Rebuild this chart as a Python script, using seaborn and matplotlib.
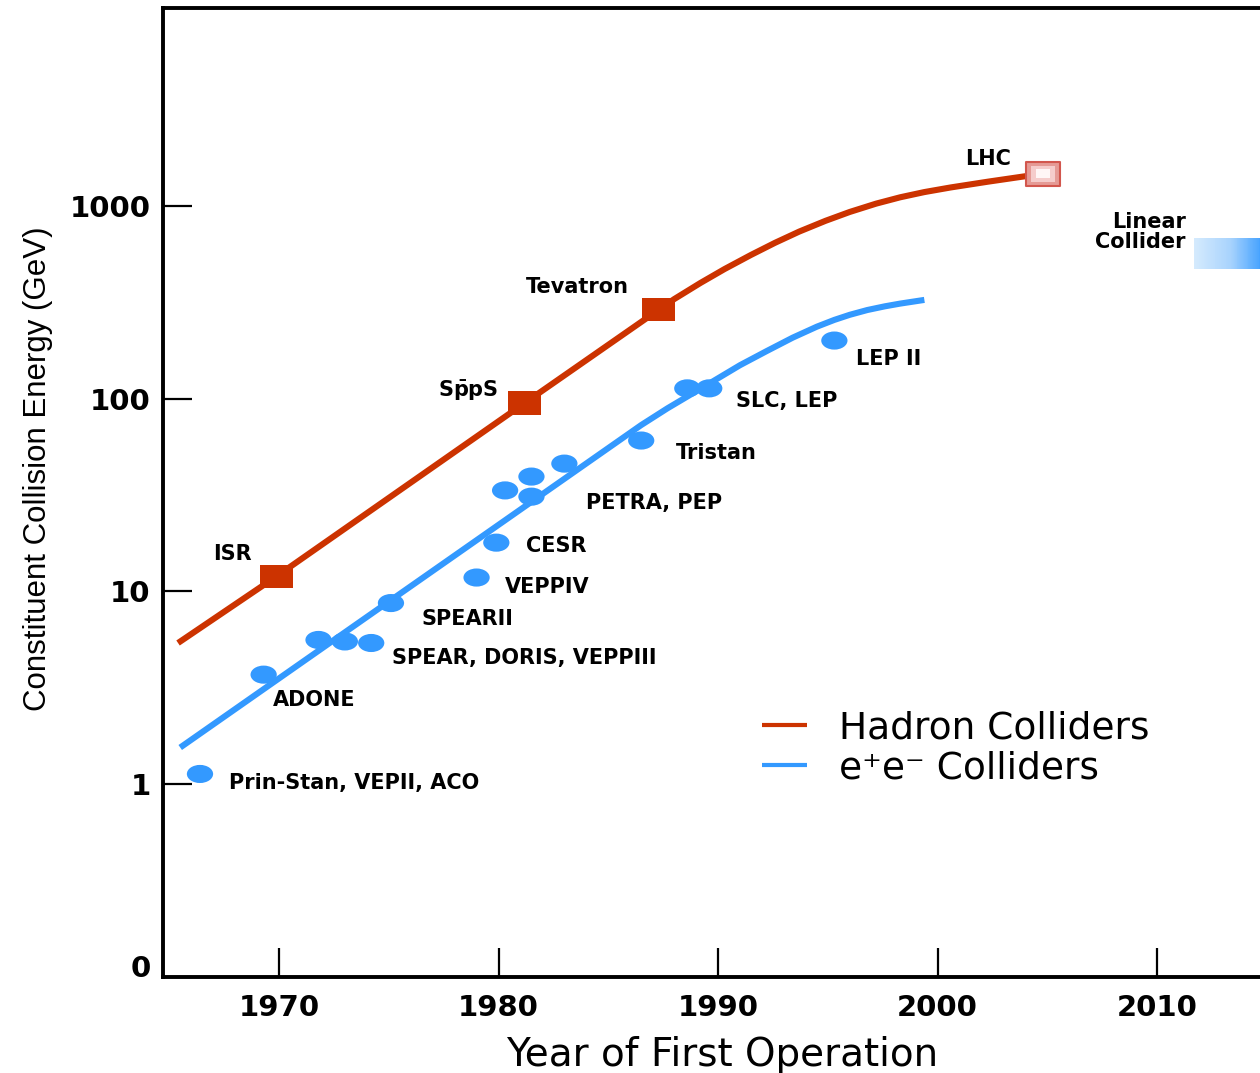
import numpy as np
import pandas as pd
import matplotlib
matplotlib.use("Agg")
import matplotlib.pyplot as plt
import seaborn as sns
from matplotlib.markers import MarkerStyle
from matplotlib.transforms import Affine2D
from matplotlib.colors import LinearSegmentedColormap
from matplotlib import font_manager
from matplotlib.ticker import NullLocator, FixedLocator, FixedFormatter

# ---------------- data ----------------
hadron_curve_year = [1965.4, 1969.9, 1981.2, 1987.3, 1988.0, 1989.2, 1990.3, 1991.5,
                     1992.6, 1993.7, 1994.9, 1996.0, 1997.2, 1998.3, 1999.4, 2000.6,
                     2002.3, 2004.1, 2004.8]
hadron_curve_gev = [5.4, 12, 95, 289, 328, 398, 470, 556, 643, 735, 836, 929, 1026,
                    1107, 1178, 1245, 1334, 1429, 1465]

ee_curve_year = [1965.5, 1986.5, 1987.7, 1989.6, 1991.0, 1992.2, 1993.4, 1994.5,
                 1995.3, 1996.0, 1996.8, 1997.6, 1998.3, 1999.4]
ee_curve_gev = [1.55, 72.9, 89.1, 119.7, 149, 176, 207, 236, 256, 272, 288, 301,
                311, 325]

hadron_names = ["ISR", "SppS", "Tevatron"]
hadron_year = [1969.9, 1981.2, 1987.3]
hadron_gev = [12, 95, 289]
lhc_year = [2004.8]
lhc_gev = [1465]

ee_year = [1966.4, 1969.3, 1971.8, 1973.0, 1974.2, 1975.1, 1979.0, 1979.9, 1980.3,
           1981.5, 1981.5, 1983.0, 1986.5, 1988.6, 1989.6, 1995.3]
ee_gev = [1.13, 3.7, 5.6, 5.5, 5.4, 8.7, 11.8, 17.9, 33.4, 39.4, 31.0, 46.0, 60.6,
          113, 113, 200]

linear_collider_years = [2011.7, 2015.0]
linear_collider_gev = [472, 683]

series_labels = ["Hadron Colliders", "e\u207ae\u207b Colliders"]
xtick_values = [1970, 1980, 1990, 2000, 2010]
ytick_values = [0.1, 1, 10, 100, 1000]
ytick_labels = ["0", "1", "10", "100", "1000"]

ann_texts = ["ISR", r"$\mathbf{S\bar{p}pS}$", "Tevatron", "LHC", "Linear\nCollider",
             "LEP II", "SLC, LEP", "Tristan", "PETRA, PEP", "CESR", "VEPPIV",
             "SPEARII", "SPEAR, DORIS, VEPPIII", "ADONE", "Prin-Stan, VEPII, ACO"]
# label anchor positions (year, GeV) and horizontal alignment
ann_pos = [(1967.9, 15.6), (1978.6, 110), (1983.6, 380), (2002.3, 1753), (2011.3, 733),
           (1996.3, 161), (1990.8, 97.7), (1988.1, 52.5), (1984.0, 28.9), (1981.25, 17.1),
           (1980.3, 10.6), (1976.5, 7.16), (1975.15, 4.50), (1969.7, 2.72), (1967.7, 1.01)]
ann_ha = ["center", "center", "center", "center", "right"] + ["left"] * 10

# ---------------- style ----------------
RED = "#cc3300"
BLUE = "#3399ff"

sns.set_theme(style="white")
plt.rcParams["font.family"] = ["DejaVu Sans"]
plt.rcParams["mathtext.fontset"] = "dejavusans"
plt.rcParams["text.color"] = "black"

names = {f.name for f in font_manager.fontManager.ttflist}
if "Liberation Sans Narrow" in names:
    ylab_family, ylab_size = "Liberation Sans Narrow", 27
else:
    ylab_family, ylab_size = "Liberation Sans", 22.5

fig = plt.figure(figsize=(12.6, 10.73), dpi=100)
ax = fig.add_axes([163 / 1260, 96 / 1073, 1 - 163 / 1260, 969 / 1073])
ax.set_yscale("log")

lines_df = pd.DataFrame({
    "year": hadron_curve_year + ee_curve_year,
    "gev": hadron_curve_gev + ee_curve_gev,
    "kind": [series_labels[0]] * len(hadron_curve_year) + [series_labels[1]] * len(ee_curve_year),
})
sns.lineplot(data=lines_df, x="year", y="gev", hue="kind",
             palette={series_labels[0]: RED, series_labels[1]: BLUE},
             sort=False, estimator=None, linewidth=4.4, ax=ax, zorder=2)
for ln in ax.get_lines():
    ln.set_solid_joinstyle("round")
    ln.set_solid_capstyle("butt")

# e+e- points (ellipses)
ell = MarkerStyle("o", transform=Affine2D().scale(1.45, 1.0))
sns.scatterplot(x=ee_year, y=ee_gev, marker=ell, s=170, color=BLUE,
                edgecolor="none", linewidth=0, ax=ax, zorder=4, legend=False)

# hadron squares
sq = MarkerStyle("s", transform=Affine2D().scale(1.43, 1.0))
sns.scatterplot(x=hadron_year, y=hadron_gev, marker=sq, s=280, color=RED,
                edgecolor="none", linewidth=0, ax=ax, zorder=4, legend=False)
# LHC (glowing square)
sns.scatterplot(x=lhc_year, y=lhc_gev, marker=sq, s=280, color="#e59a95",
                edgecolor="#d2564d", linewidth=1.5, ax=ax, zorder=4, legend=False)
sns.scatterplot(x=lhc_year, y=lhc_gev, marker=sq, s=140, color="#f5cccb",
                edgecolor="none", linewidth=0, ax=ax, zorder=5, legend=False)
sns.scatterplot(x=lhc_year, y=lhc_gev, marker=sq, s=45, color="#fff6f6",
                edgecolor="none", linewidth=0, ax=ax, zorder=6, legend=False)

# linear collider gradient box
gx = np.linspace(linear_collider_years[0], linear_collider_years[1], 80)
gy = np.array(linear_collider_gev)
gc = np.linspace(0, 1, 79)[None, :]
cmap = LinearSegmentedColormap.from_list("lc", ["#d4eafd", "#a8d3fd", "#3399ff"])
ax.pcolormesh(gx, gy, gc, cmap=cmap, shading="flat", zorder=1)

# annotations
for txt, (xx, yy), ha in zip(ann_texts, ann_pos, ann_ha):
    ax.text(xx, yy, txt, fontsize=15, fontweight="bold", ha=ha, va="center",
            multialignment="right" if ha == "right" else "left",
            linespacing=1.0, color="black", zorder=7)

# axes
ax.set_xlim(1964.715, 2014.69)
ax.set_ylim(0.1, 10614)
ax.xaxis.set_major_locator(FixedLocator(xtick_values))
ax.yaxis.set_major_locator(FixedLocator(ytick_values))
ax.yaxis.set_major_formatter(FixedFormatter(ytick_labels))
ax.yaxis.set_minor_locator(NullLocator())
ax.xaxis.set_minor_locator(NullLocator())
ax.tick_params(axis="both", which="major", direction="in", length=21, width=1.6,
               color="black", labelsize=21, labelcolor="black",
               bottom=True, left=True, top=False, right=False)
ax.tick_params(axis="x", pad=12)
ax.tick_params(axis="y", pad=9)
for lab in ax.get_xticklabels() + ax.get_yticklabels():
    lab.set_fontweight("bold")
# the "0" label sits just above the bottom spine
ax.yaxis.get_major_ticks()[0].label1.set_verticalalignment("baseline")

for side in ["left", "bottom", "top"]:
    ax.spines[side].set_visible(True)
    ax.spines[side].set_linewidth(2.8)
    ax.spines[side].set_color("black")
ax.spines["right"].set_visible(False)
ax.grid(False)

ax.set_xlabel("Year of First Operation", fontsize=28, color="black")
ax.xaxis.set_label_coords(0.51, -0.061)
ax.set_ylabel("Constituent Collision Energy (GeV)", fontsize=ylab_size,
              fontfamily=ylab_family, color="black")
ax.yaxis.set_label_coords(-0.100, 0.525)

handles, labels = ax.get_legend_handles_labels()
leg = ax.legend(handles, labels, loc="center left", bbox_to_anchor=(0.546, 0.236),
                frameon=False, fontsize=27, handlelength=1.2, handletextpad=0.85,
                labelspacing=0.1, borderpad=0, borderaxespad=0)
for ln in leg.get_lines():
    ln.set_linewidth(3.0)
for t in leg.get_texts():
    t.set_color("black")

fig.savefig("out.png", dpi=100)
